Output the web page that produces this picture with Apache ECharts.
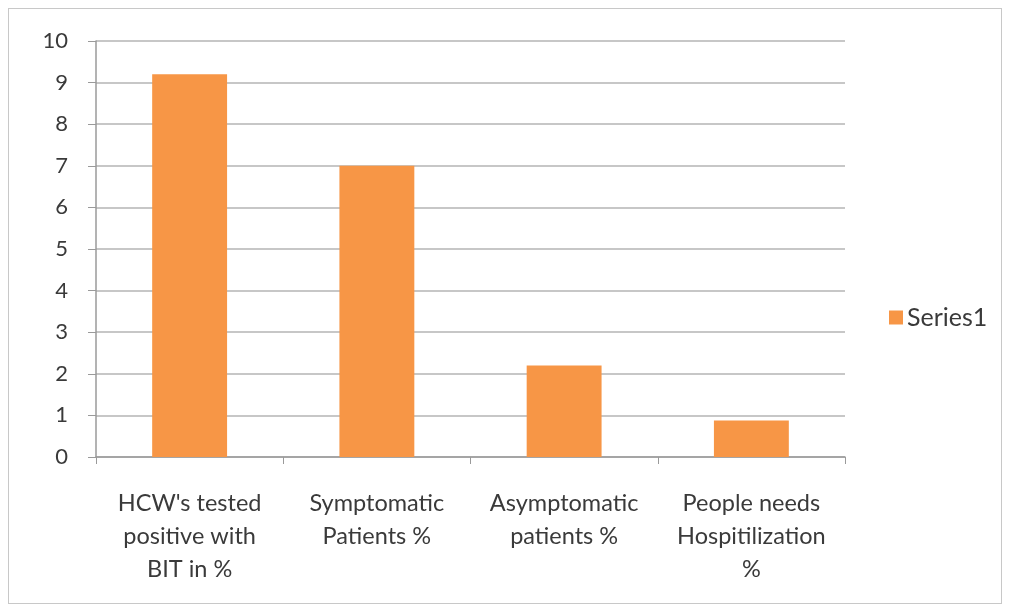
<!DOCTYPE html>
<html>
<head>
<meta charset="utf-8">
<script src="https://cdn.jsdelivr.net/npm/echarts@6/dist/echarts.min.js"></script>
<style>
  html, body { margin: 0; padding: 0; background: #fff; }
  #chart { position: absolute; left: 8px; top: 8px; width: 994px; height: 596px; border: 1px solid #c8c8c8; box-sizing: border-box; }
</style>
</head>
<body>
<div id="chart"></div>
<script>
const categories = [
  "HCW's tested\npositive with\nBIT in %",
  "Symptomatic\nPatients %",
  "Asymptomatic\npatients %",
  "People needs\nHospitilization\n%"
];
const series1 = [9.2, 7.0, 2.2, 0.88];
const seriesName = "Series1";

const chart = echarts.init(document.getElementById("chart"));

const option = {
  animation: false,
  textStyle: { fontFamily: "Lato", color: "#3a3a3a" },
  grid: {
    left: 87,
    right: 156,
    top: 32,
    bottom: 146,
    containLabel: false
  },
  legend: {
    data: [seriesName],
    orient: "vertical",
    left: 875,
    top: 291,
    itemWidth: 14,
    itemHeight: 14,
    itemGap: 6,
    icon: "rect",
    textStyle: { fontFamily: "Lato", fontSize: 25, color: "#3a3a3a", padding: [0, 0, 0, -1] }
  },
  xAxis: {
    type: "category",
    data: categories,
    axisLine: { lineStyle: { color: "#9a9a9a", width: 1.5 } },
    axisTick: { show: true, alignWithLabel: false, length: 7, lineStyle: { color: "#9a9a9a" } },
    axisLabel: {
      interval: 0,
      margin: 30,
      fontSize: 23.5,
      lineHeight: 33,
      color: "#3a3a3a",
      fontFamily: "Lato"
    }
  },
  yAxis: {
    type: "value",
    min: 0,
    max: 10,
    interval: 1,
    axisLine: { show: true, lineStyle: { color: "#9a9a9a", width: 1.5 } },
    axisTick: { show: true, length: 8, lineStyle: { color: "#9a9a9a" } },
    axisLabel: { fontSize: 22, color: "#3a3a3a", margin: 28, fontFamily: "Lato" },
    splitLine: { lineStyle: { color: "#b4b4b4", width: 1.5 } }
  },
  series: [
    {
      name: seriesName,
      type: "bar",
      data: series1,
      barCategoryGap: "60%",
      itemStyle: { color: "#f79646" }
    }
  ]
};

chart.setOption(option);
</script>
</body>
</html>
